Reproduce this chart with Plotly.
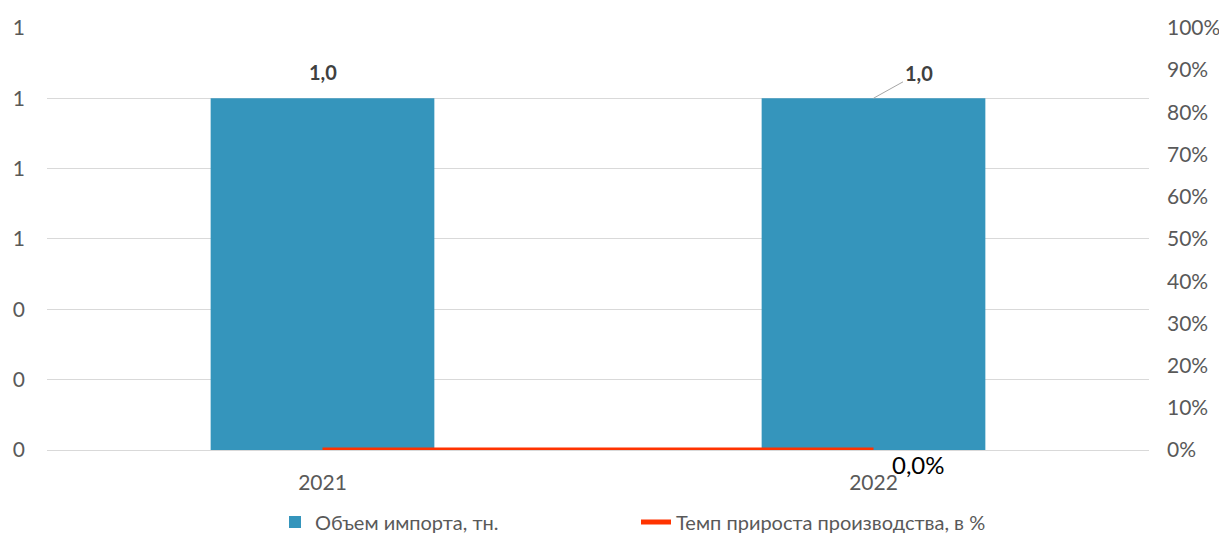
import plotly.graph_objects as go

categories = ["2021", "2022"]
import_volume = [1.0, 1.0]
growth_rate = [0.0, 0.0]
left_ticks = [0, 0.2, 0.4, 0.6, 0.8, 1.0, 1.2]
right_ticks = [0, 0.1, 0.2, 0.3, 0.4, 0.5, 0.6, 0.7, 0.8, 0.9, 1.0]

BLUE = "#3595BC"
RED = "#FF3300"
GRAY = "#595959"
FONT = "Lato"

fig = go.Figure()
fig.add_trace(go.Bar(
    x=categories, y=import_volume, name="Объем импорта, тн.",
    marker=dict(color=BLUE, line=dict(width=0)), yaxis="y",
))
fig.add_trace(go.Scatter(
    x=categories, y=growth_rate, name="Темп прироста производства, в %",
    mode="lines", line=dict(color=RED, width=5), yaxis="y2",
))

def fmt(v):
    return f"{v:.1f}".replace(".", ",")

annotations = []
annotations.append(dict(
    x=0, y=import_volume[0], xref="x", yref="y",
    text=f"<b>{fmt(import_volume[0])}</b>", showarrow=False,
    yanchor="bottom", yshift=12, font=dict(size=20, color="#404040", family=FONT),
))
annotations.append(dict(
    x=1, y=import_volume[1], xref="x", yref="y",
    text=f"<b>{fmt(import_volume[1])}</b>", showarrow=True,
    arrowhead=0, arrowwidth=1, arrowcolor="#A6A6A6",
    ax=45, ay=-25, xanchor="center", yanchor="middle",
    font=dict(size=20, color="#404040", family=FONT),
))
annotations.append(dict(
    x=1, y=growth_rate[1], xref="x", yref="y2",
    text=fmt(growth_rate[1]) + "%", showarrow=False,
    xanchor="left", yanchor="top", xshift=16, yshift=2,
    font=dict(size=24, color="#000000", family=FONT),
))

fig.update_layout(
    width=1227, height=544,
    margin=dict(l=39, r=86, t=19, b=101),
    paper_bgcolor="white", plot_bgcolor="white",
    font=dict(family=FONT, size=21, color=GRAY),
    bargap=0.594,
    showlegend=True,
    legend=dict(orientation="h", x=0.2069, xanchor="left", y=-0.1675, yanchor="middle",
                font=dict(size=20, color=GRAY), tracegroupgap=0,
                entrywidth=316, entrywidthmode="pixels"),
    xaxis=dict(type="category", range=[-0.5, 1.5], showgrid=False, showline=False, ticks="",
               automargin=False, ticklabelstandoff=18, tickfont=dict(size=21, color=GRAY)),
    yaxis=dict(range=[0, 1.2025], tickvals=left_ticks, tickformat=".0f",
               showgrid=True, gridcolor="#D9D9D9", gridwidth=1,
               zeroline=True, zerolinecolor="#D9D9D9", zerolinewidth=1,
               showline=False, ticks="", automargin=False, ticklabelstandoff=21,
               tickfont=dict(size=21, color=GRAY)),
    yaxis2=dict(range=[0, 1.0021], tickvals=right_ticks, tickformat=".0%",
                overlaying="y", side="right", showgrid=False, zeroline=False,
                showline=False, ticks="", automargin=False, ticklabelstandoff=17,
                tickfont=dict(size=21, color=GRAY)),
    annotations=annotations,
)

fig.write_html("out.html")
